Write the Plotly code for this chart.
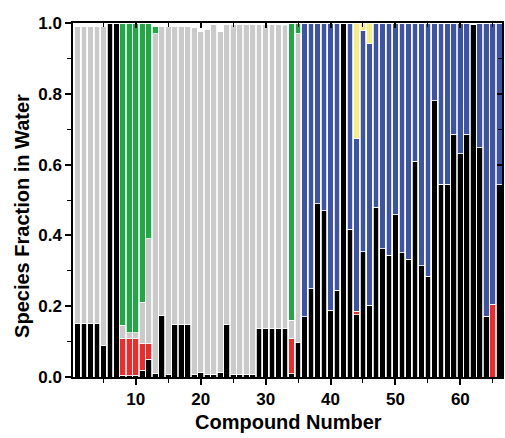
import plotly.graph_objects as go

compounds = list(range(1, 67))

black = [0.15, 0.15, 0.15, 0.15, 0.088, 1.0, 1.0, 0.005, 0.003, 0.005,
         0.019, 0.05, 0.009, 0.175, 0.008, 0.147, 0.147, 0.147, 0.008, 0.014,
         0.008, 0.008, 0.014, 0.148, 0.008, 0.008, 0.008, 0.008, 0.137, 0.137,
         0.137, 0.137, 0.137, 0.009, 0.097, 0.17, 0.25, 0.49, 0.47, 0.189,
         0.245, 1.0, 0.417, 0.176, 0.354, 0.203, 0.479, 0.363, 0.344, 0.458,
         0.351, 0.333, 0.61, 0.314, 0.285, 0.78, 0.544, 0.544, 0.686, 0.631,
         0.686, 0.997, 0.648, 0.172, 0.0, 0.543]
red = [0, 0, 0, 0, 0, 0, 0, 0.105, 0.107, 0.105,
       0.075, 0.044, 0, 0, 0, 0, 0, 0, 0, 0,
       0, 0, 0, 0, 0, 0, 0, 0, 0, 0,
       0, 0, 0, 0.099, 0, 0, 0, 0, 0, 0,
       0, 0, 0, 0.01, 0, 0, 0, 0, 0, 0,
       0, 0, 0, 0, 0, 0, 0, 0, 0, 0,
       0, 0, 0, 0, 0.206, 0]
gray = [0.84, 0.84, 0.84, 0.84, 0.902, 0, 0, 0.036, 0.015, 0.015,
        0.117, 0.296, 0.961, 0.815, 0.982, 0.843, 0.843, 0.843, 0.98, 0.961,
        0.974, 0.988, 0.961, 0.848, 0.988, 0.988, 0.988, 0.988, 0.859, 0.859,
        0.859, 0.859, 0.855, 0.052, 0.873, 0, 0, 0, 0, 0,
        0, 0, 0, 0, 0, 0, 0, 0, 0, 0,
        0, 0, 0, 0, 0, 0, 0, 0, 0, 0,
        0, 0, 0, 0, 0, 0]
green = [0, 0, 0, 0, 0, 0, 0, 0.854, 0.875, 0.875,
         0.789, 0.61, 0.02, 0, 0, 0, 0, 0, 0, 0,
         0, 0, 0, 0, 0, 0, 0, 0, 0, 0,
         0, 0, 0.005, 0.84, 0.03, 0, 0, 0, 0, 0,
         0, 0, 0, 0, 0, 0, 0, 0, 0, 0,
         0, 0, 0, 0, 0, 0, 0, 0, 0, 0,
         0, 0, 0, 0, 0, 0]
yellow = [0] * 43 + [0.325, 0.02, 0.057] + [0] * 20
blue = [0] * 35 + [round(1.0 - b - r - y, 3) if i >= 35 else 0
                   for i, (b, r, y) in enumerate(zip(black, red, yellow))][35:]

x_title = "Compound Number"
y_title = "Species Fraction in Water"

colors = {
    "black": "#000000",
    "red": "#ee2a2a",
    "gray": "#cacaca",
    "blue": "#3c53a6",
    "green": "#22a747",
    "yellow": "#f6ef7f",
}

fig = go.Figure()
for name, vals in [("black", black), ("red", red), ("gray", gray),
                   ("blue", blue), ("green", green), ("yellow", yellow)]:
    fig.add_trace(go.Bar(
        x=compounds, y=vals, name=name,
        marker=dict(color=colors[name], line=dict(color="white", width=0.8)),
        showlegend=False, hoverinfo="skip",
    ))

# invisible trace to anchor the mirrored (top/right) axes
fig.add_trace(go.Scatter(x=[None], y=[None], xaxis="x2", yaxis="y2",
                         showlegend=False, hoverinfo="skip"))

FONT = "Liberation Sans, Arial, Helvetica, sans-serif"
tickfont = dict(family=FONT, size=17, color="black", weight="bold")
titlefont = dict(family=FONT, size=20, color="black", weight="bold")

xr = [0.32, 66.42]
fig.update_layout(
    width=505, height=438,
    margin=dict(l=73, r=3, t=23, b=61),
    paper_bgcolor="white", plot_bgcolor="white",
    barmode="stack", bargap=0.12,
    xaxis=dict(
        range=xr, tick0=0, dtick=10, ticks="outside", ticklen=6, tickwidth=1.5,
        tickcolor="black", showline=True, linecolor="black", linewidth=1.5,
        showgrid=False, zeroline=False, tickfont=tickfont,
        minor=dict(dtick=5, tick0=0, ticks="outside", ticklen=4, tickwidth=1.2,
                   tickcolor="black", showgrid=False),
    ),
    yaxis=dict(
        range=[0, 1.0], tick0=0, dtick=0.2, tickformat=".1f", ticks="outside",
        ticklen=6, tickwidth=1.5, tickcolor="black", showline=True,
        linecolor="black", linewidth=1.5, showgrid=False, zeroline=False,
        tickfont=tickfont,
        minor=dict(dtick=0.1, tick0=0, ticks="outside", ticklen=4, tickwidth=1.2,
                   tickcolor="black", showgrid=False),
    ),
    xaxis2=dict(
        overlaying="x", side="top", anchor="y2", range=xr, tick0=0, dtick=10,
        ticks="inside", ticklen=5, tickwidth=1.5, tickcolor="black",
        showticklabels=False, showline=True, linecolor="black", linewidth=1.5,
        showgrid=False, zeroline=False,
        minor=dict(dtick=5, tick0=0, ticks="inside", ticklen=4, tickwidth=1.2,
                   tickcolor="black", showgrid=False),
    ),
    yaxis2=dict(
        overlaying="y", side="right", anchor="x2", range=[0, 1.0], tick0=0,
        dtick=0.2, ticks="inside", ticklen=5, tickwidth=1.5, tickcolor="black",
        showticklabels=False, showline=True, linecolor="black", linewidth=1.5,
        showgrid=False, zeroline=False,
        minor=dict(dtick=0.1, tick0=0, ticks="inside", ticklen=4, tickwidth=1.2,
                   tickcolor="black", showgrid=False),
    ),
    annotations=[
        dict(text=x_title, xref="paper", yref="paper", x=0.503, y=-0.128,
             xanchor="center", yanchor="middle", showarrow=False, font=titlefont),
        dict(text=y_title, xref="paper", yref="paper", x=-0.119, y=0.455,
             xanchor="center", yanchor="middle", textangle=-90, showarrow=False,
             font=titlefont),
    ],
)

fig.write_html("out.html")
